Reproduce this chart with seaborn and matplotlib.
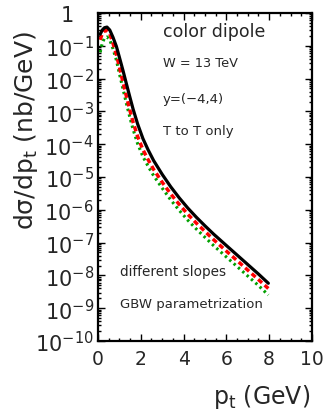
import numpy as np
import pandas as pd
import matplotlib
matplotlib.use("Agg")
import matplotlib.pyplot as plt
import matplotlib.ticker as mticker
import seaborn as sns

# transverse momentum grid (GeV)
pt = [0.1, 0.2, 0.3, 0.42, 0.55, 0.7, 0.86, 1.0, 1.17, 1.32, 1.5, 1.64, 1.85,
      2.1, 2.34, 2.6, 3.0, 3.4, 3.8, 4.2, 4.6, 5.0, 5.4, 6.0, 6.5, 7.0, 7.5, 7.96]

# dsigma/dpt (nb/GeV), log10 values
log_black = [-0.65, -0.52, -0.45, -0.43, -0.52, -0.74, -1.02, -1.35, -1.76, -2.14,
             -2.59, -2.93, -3.38, -3.83, -4.17, -4.50, -4.92, -5.30, -5.64, -5.95,
             -6.23, -6.49, -6.74, -7.09, -7.38, -7.67, -7.96, -8.24]
log_red = [-0.82, -0.63, -0.55, -0.53, -0.64, -0.92, -1.27, -1.65, -2.11, -2.52,
           -2.99, -3.33, -3.76, -4.17, -4.47, -4.77, -5.16, -5.52, -5.84, -6.14,
           -6.41, -6.66, -6.91, -7.26, -7.55, -7.84, -8.13, -8.40]
log_green = [-1.20, -0.92, -0.77, -0.73, -0.82, -1.09, -1.44, -1.85, -2.32, -2.74,
             -3.21, -3.55, -3.98, -4.38, -4.67, -4.96, -5.34, -5.70, -6.02, -6.32,
             -6.59, -6.84, -7.09, -7.44, -7.73, -8.02, -8.31, -8.60]

ytick_labels = ["1   ", "$10^{-1}$", "$10^{-2}$", "$10^{-3}$", "$10^{-4}$", "$10^{-5}$",
                "$10^{-6}$", "$10^{-7}$", "$10^{-8}$", "$10^{-9}$", "$10^{-10}$"]
xtick_labels = ["0", "2", "4", "6", "8", "10"]

sns.set_theme(style="ticks")
plt.rcParams["font.family"] = ["DejaVu Sans"]
plt.rcParams["mathtext.fontset"] = "dejavusans"

fig = plt.figure(figsize=(3.26, 4.10), dpi=100)
ax = fig.add_axes([0.3006, 0.1659, 0.6564, 0.8000])

curves = [
    (log_green, "#00a000", (0, (0.8, 1.1)), 2.2),
    (log_red, "#ff0000", (0, (1.5, 1.0)), 2.5),
    (log_black, "black", "-", 2.3),
]
for logs, col, ls, lw in curves:
    df = pd.DataFrame({"pt": pt, "xs": np.power(10.0, logs)})
    sns.lineplot(data=df, x="pt", y="xs", ax=ax, color=col, linestyle=ls,
                 lw=lw, estimator=None, sort=False, legend=False)

ax.set_yscale("log")
ax.set_ylim(1e-10, 1)
ax.set_xlim(0, 10)

ax.yaxis.set_major_locator(mticker.FixedLocator([10.0 ** (-k) for k in range(11)]))
ax.yaxis.set_major_formatter(mticker.FixedFormatter(ytick_labels))
ax.yaxis.set_minor_locator(mticker.LogLocator(base=10, subs=np.arange(2, 10), numticks=100))
ax.yaxis.set_minor_formatter(mticker.NullFormatter())
ax.xaxis.set_major_locator(mticker.FixedLocator([0, 2, 4, 6, 8, 10]))
ax.xaxis.set_major_formatter(mticker.FixedFormatter(xtick_labels))
ax.xaxis.set_minor_locator(mticker.MultipleLocator(0.5))

ax.tick_params(which="both", direction="in", top=True, right=True, width=1.0, color="black")
ax.tick_params(which="major", length=5)
ax.tick_params(which="minor", length=2.5)
ax.tick_params(axis="y", which="major", labelsize=15, pad=3)
ax.tick_params(axis="x", which="major", labelsize=13.5, pad=6)
for sp in ax.spines.values():
    sp.set_linewidth(1.6)
    sp.set_color("black")

ax.set_xlabel("p$_\\mathrm{t}$ (GeV)", fontsize=17, loc="right")
ax.xaxis.set_label_coords(0.99, -0.125)
ax.set_ylabel("d\u03c3/dp$_\\mathrm{t}$ (nb/GeV)", fontsize=18)
ax.yaxis.set_label_coords(-0.272, 0.645)

ax.text(0.304, 0.945, "color dipole", transform=ax.transAxes, fontsize=12.5, va="center")
ax.text(0.304, 0.848, "W = 13 TeV", transform=ax.transAxes, fontsize=9.3, va="center")
ax.text(0.304, 0.738, "y=(\u22124,4)", transform=ax.transAxes, fontsize=9.5, va="center")
ax.text(0.304, 0.643, "T to T only", transform=ax.transAxes, fontsize=9.5, va="center")
ax.text(0.103, 0.213, "different slopes", transform=ax.transAxes, fontsize=9.8, va="center")
ax.text(0.103, 0.113, "GBW parametrization", transform=ax.transAxes, fontsize=9.5, va="center")

fig.savefig("out.png", dpi=100)
